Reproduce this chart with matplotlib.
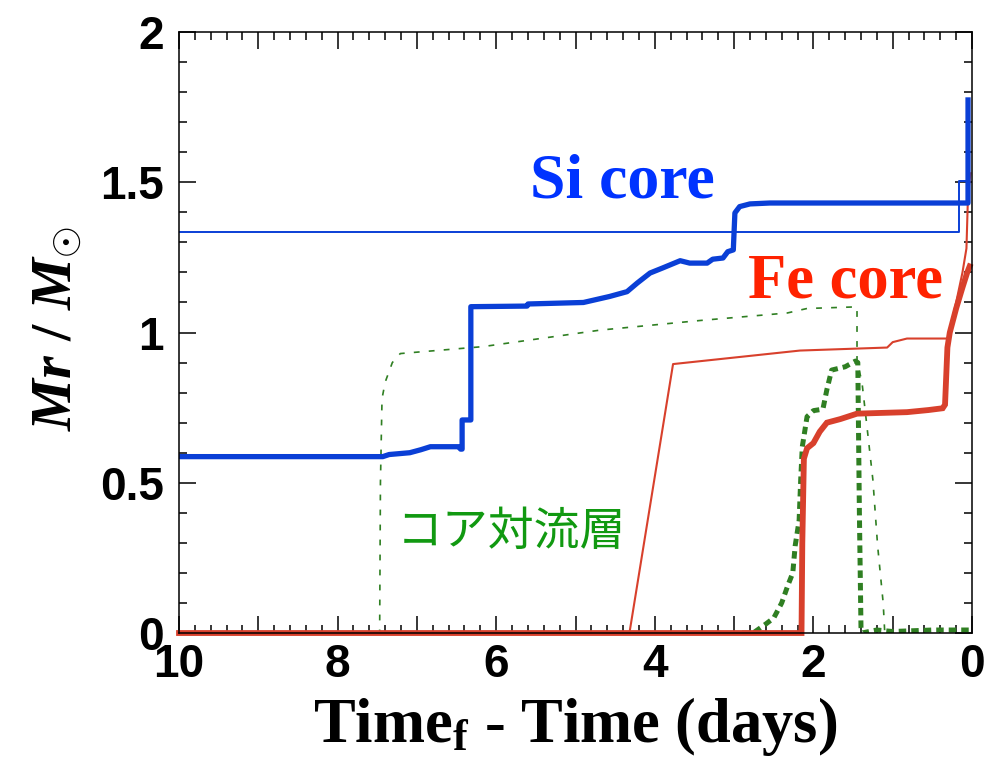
import matplotlib
matplotlib.use("Agg")
import matplotlib.pyplot as plt
from matplotlib.ticker import MultipleLocator, FuncFormatter

plt.rcParams['mathtext.fontset'] = 'custom'
plt.rcParams['mathtext.rm'] = 'Liberation Serif:bold'
plt.rcParams['mathtext.it'] = 'Liberation Serif:italic:bold'
plt.rcParams['mathtext.bf'] = 'Liberation Serif:bold'

# Si core (thick) : days before collapse, Mr/Msun
si_t = [10.0, 7.43, 7.35, 7.09, 6.95, 6.83, 6.47, 6.45, 6.43, 6.43, 6.32, 6.32,
        5.61, 5.6, 4.9, 4.57, 4.35, 4.22, 4.06, 3.9, 3.68, 3.56, 3.34, 3.27,
        3.14, 3.08, 3.01, 2.99, 2.93, 2.8, 2.55, 0.05, 0.05]
si_m = [0.587, 0.587, 0.594, 0.600, 0.610, 0.620, 0.620, 0.612, 0.612, 0.709, 0.709, 1.086,
        1.088, 1.095, 1.100, 1.120, 1.136, 1.165, 1.198, 1.215, 1.239, 1.231, 1.231, 1.244,
        1.248, 1.269, 1.275, 1.398, 1.419, 1.428, 1.431, 1.431, 1.774]

# Si core (thin, other model)
si2_t = [10.0, 0.165, 0.165, 0.05, 0.05]
si2_m = [1.336, 1.336, 1.505, 1.505, 1.55]

# Fe core (thick)
fe_t = [10.0, 2.15, 2.14, 2.12, 2.08, 2.0, 1.92, 1.83, 1.66, 1.45, 1.2, 0.82,
        0.55, 0.37, 0.34, 0.31, 0.28, 0.2, 0.12, 0.06, 0.03]
fe_m = [0.0, 0.0, 0.3, 0.58, 0.615, 0.632, 0.67, 0.70, 0.712, 0.73, 0.732, 0.735,
        0.742, 0.748, 0.76, 0.95, 1.0, 1.08, 1.15, 1.2, 1.22]

# Fe core (thin)
fe2_t = [10.0, 4.32, 3.77, 2.17, 1.07, 1.0, 0.82, 0.30, 0.27, 0.2, 0.12, 0.07, 0.05, 0.02]
fe2_m = [0.0, 0.0, 0.895, 0.94, 0.95, 0.968, 0.98, 0.98, 1.02, 1.10, 1.20, 1.28, 1.46, 1.53]

# core convective layer (thick dotted)
cz_t = [2.9, 2.76, 2.6, 2.5, 2.4, 2.32, 2.26, 2.23, 2.18, 2.16, 2.14, 2.08, 2.0,
        1.88, 1.83, 1.77, 1.6, 1.47, 1.44, 1.42, 1.40, 1.39, 1.2, 1.0, 0.5, 0.0]
cz_m = [0.0, 0.0, 0.03, 0.05, 0.1, 0.16, 0.2, 0.29, 0.375, 0.51, 0.62, 0.72, 0.74,
        0.745, 0.81, 0.875, 0.886, 0.905, 0.9, 0.4, 0.02, 0.0, 0.01, 0.005, 0.01, 0.01]

# core convective layer (thin dotted)
cz2_t = [7.5, 7.47, 7.46, 7.44, 7.4, 7.31, 7.21, 6.17, 4.69, 3.43, 2.33, 2.08, 1.5,
         1.45, 1.45, 1.39, 1.33, 1.25, 1.19, 1.12, 1.1]
cz2_m = [0.0, 0.0, 0.5, 0.78, 0.835, 0.90, 0.93, 0.953, 1.008, 1.04, 1.065, 1.08, 1.085,
         1.085, 0.90, 0.84, 0.70, 0.51, 0.29, 0.10, 0.0]

blue = '#0a3fd6'
red = '#d8402c'
green = '#2f7f22'

fig = plt.figure(figsize=(9.88, 7.7), dpi=100)
ax = fig.add_axes([0.1812, 0.1779, 0.8026, 0.7805])

ax.plot(cz2_t, cz2_m, color=green, lw=1.2, dashes=(3.5, 5.5))
ax.plot(cz_t, cz_m, color=green, lw=3.6, dashes=(1.5, 1.0))
ax.plot(fe2_t, fe2_m, color=red, lw=1.5)
ax.plot(fe_t, fe_m, color=red, lw=4.2, clip_on=False, solid_joinstyle='miter')
ax.plot(si2_t, si2_m, color=blue, lw=1.4)
ax.plot(si_t, si_m, color=blue, lw=3.8)

ax.text(5.57, 1.451, 'Si core', color='#0033ff', fontsize=46, fontweight='bold',
        family='Liberation Serif', ha='left', va='baseline')
ax.text(2.825, 1.118, 'Fe core', color='#ff2200', fontsize=45, fontweight='bold',
        family='Liberation Serif', ha='left', va='baseline')
ax.text(7.25, 0.336, 'コア対流層', color='#119911', fontsize=33,
        family=['Noto Sans CJK JP', 'DejaVu Sans'], ha='left', va='center')

ax.set_xlim(10, 0)
ax.set_ylim(0, 2)

ax.xaxis.set_major_locator(MultipleLocator(1))
ax.xaxis.set_minor_locator(MultipleLocator(0.2))
ax.xaxis.set_major_formatter(FuncFormatter(lambda v, p: '%d' % round(v) if round(v) % 2 == 0 else ''))
ax.yaxis.set_major_locator(MultipleLocator(0.5))
ax.yaxis.set_minor_locator(MultipleLocator(0.1))
ax.yaxis.set_major_formatter(FuncFormatter(lambda v, p: '%g' % v))

ax.tick_params(which='both', direction='in', top=True, right=True, width=1.1)
ax.tick_params(which='major', length=12)
ax.tick_params(which='minor', length=6)
ax.tick_params(axis='x', which='major', pad=7)
ax.tick_params(axis='y', which='major', pad=11)
for lab in ax.get_xticklabels() + ax.get_yticklabels():
    lab.set_fontfamily('Liberation Sans')
    lab.set_fontweight('bold')
    lab.set_fontsize(33)
for sp in ax.spines.values():
    sp.set_linewidth(1.1)

fig.text(575 / 988, 1 - 742 / 770, r'Time$_{\rm f}$ - Time (days)', fontsize=45,
         fontweight='bold', family='Liberation Serif', ha='center', va='baseline')
fig.text(55 / 988, 1 - 328 / 770, r'$Mr\ /\ M_{\odot}$', fontsize=42,
         rotation=90, ha='center', va='center')

fig.savefig('out.png', dpi=100)
